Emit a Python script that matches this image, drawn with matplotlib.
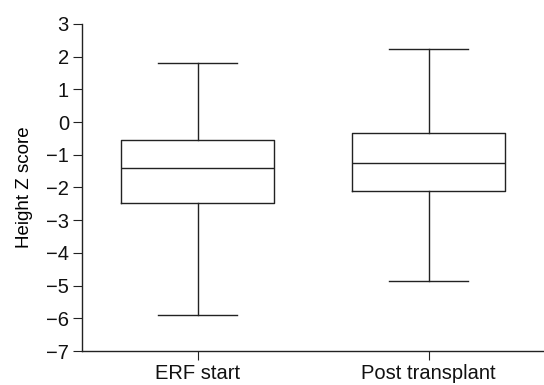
import matplotlib
matplotlib.use("Agg")
import matplotlib.pyplot as plt

categories = ["ERF start", "Post transplant"]
whisker_low = [-5.9, -4.85]
q1 = [-2.48, -2.12]
median = [-1.41, -1.25]
q3 = [-0.56, -0.34]
whisker_high = [1.8, 2.22]
yticks = list(range(-7, 4))

plt.rcParams['font.family'] = ['Liberation Sans', 'DejaVu Sans']

fig = plt.figure(figsize=(5.44, 3.85), dpi=100)
ax = fig.add_axes([0.151, 0.088, 0.849, 0.85])

stats = []
for i, c in enumerate(categories):
    stats.append(dict(label=c, whislo=whisker_low[i], q1=q1[i], med=median[i],
                      q3=q3[i], whishi=whisker_high[i], fliers=[]))

col = "#222222"
lw = 1.0
ax.bxp(stats, positions=[1, 2], widths=0.66, capwidths=0.34, showfliers=False,
       boxprops=dict(color=col, linewidth=lw),
       whiskerprops=dict(color=col, linewidth=lw),
       capprops=dict(color=col, linewidth=lw),
       medianprops=dict(color=col, linewidth=lw))

ax.set_xlim(0.5, 2.5)
ax.set_ylim(-7, 3)
ax.set_yticks(yticks)
ax.set_ylabel("Height Z score", fontsize=13.5, labelpad=9)
ax.spines['top'].set_visible(False)
ax.spines['right'].set_visible(False)
for s in ['left', 'bottom']:
    ax.spines[s].set_color(col)
    ax.spines[s].set_linewidth(lw)
ax.tick_params(axis='both', direction='out', length=6.5, width=0.8, color=col,
               labelsize=14.5, labelcolor='#111111')
ax.tick_params(axis='x', pad=3)
ax.tick_params(axis='y', pad=3)

fig.savefig("out.png", dpi=100)
